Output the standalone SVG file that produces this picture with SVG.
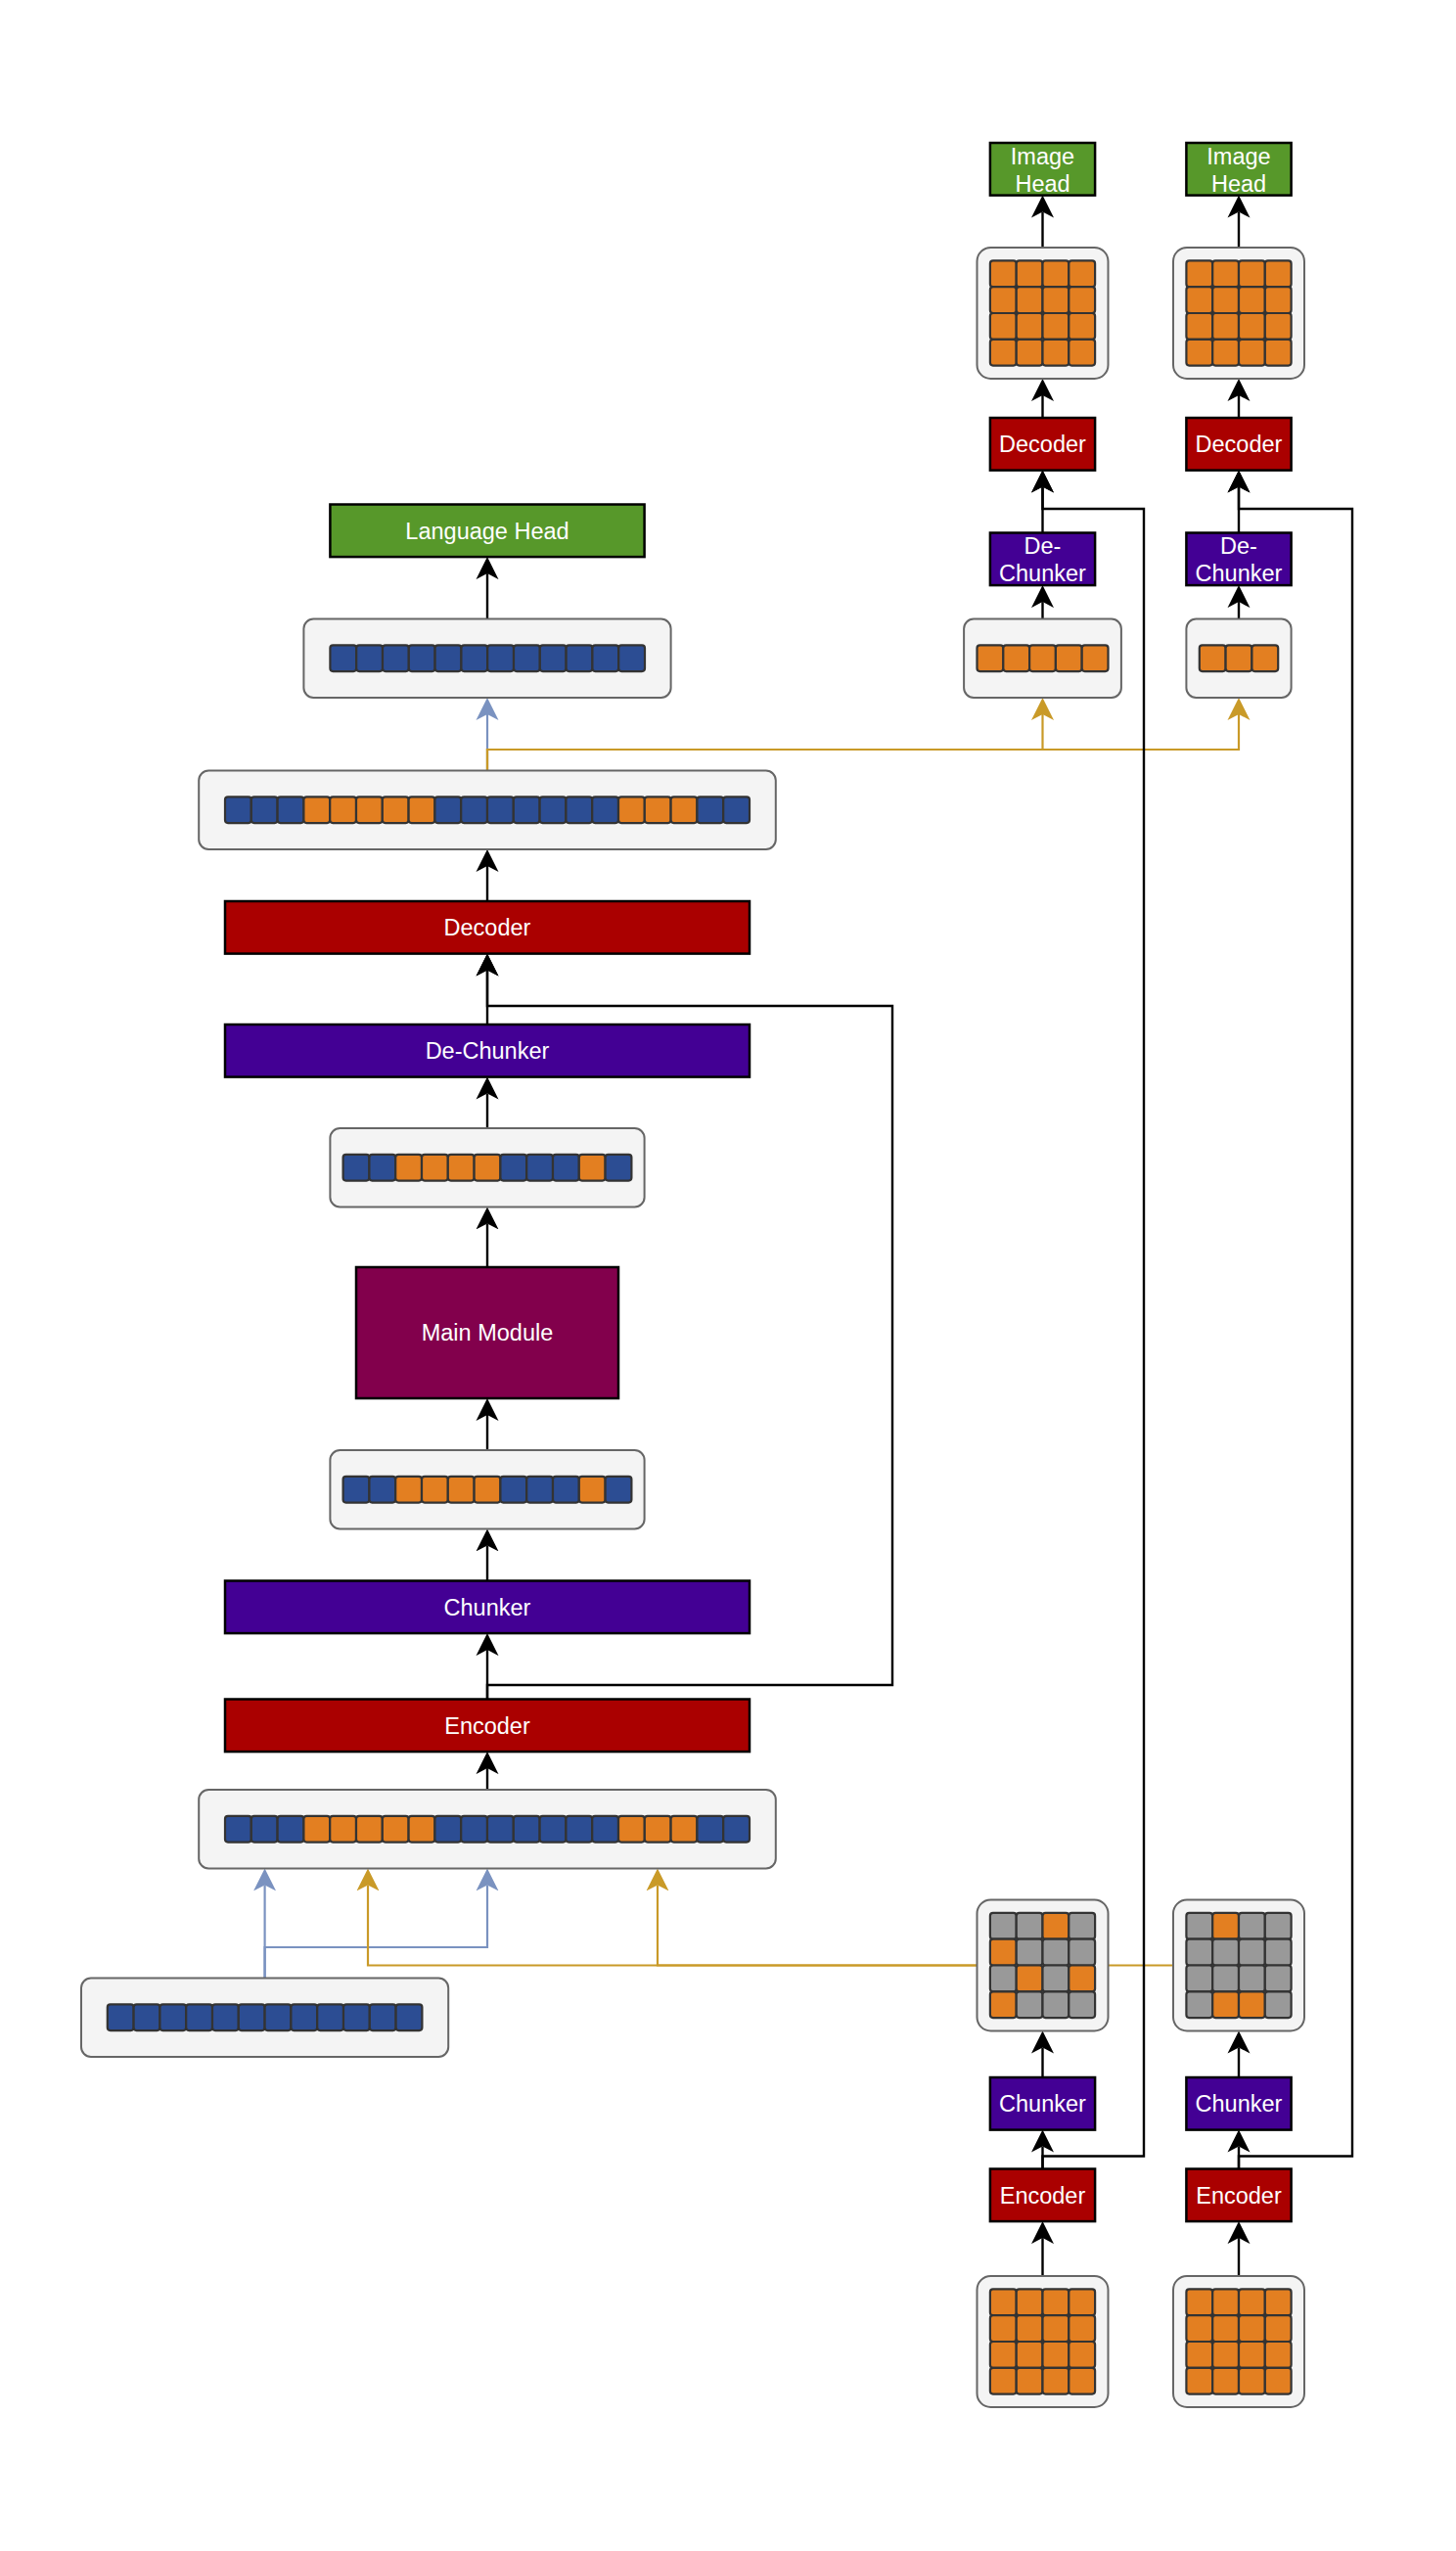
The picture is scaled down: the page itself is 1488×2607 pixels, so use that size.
<svg xmlns="http://www.w3.org/2000/svg" xmlns:xlink="http://www.w3.org/1999/xlink" width="1488" height="2607" viewBox="0 0 1488 2607">
<style>
.box{fill:#f4f4f4;stroke:#666666;stroke-width:2}
.b{fill:#2c4d93;stroke:#333333;stroke-width:2.2}
.o{fill:#e37f21;stroke:#333333;stroke-width:2.2}
.g{fill:#999999;stroke:#333333;stroke-width:2.2}
.red{fill:#aa0000;stroke:#000000;stroke-width:2.5}
.pur{fill:#430094;stroke:#000000;stroke-width:2.5}
.grn{fill:#57982a;stroke:#000000;stroke-width:2.5}
.mag{fill:#82004c;stroke:#000000;stroke-width:2.5}
.t{fill:#ffffff;font-family:"Liberation Sans",Arial,Helvetica,sans-serif;font-size:23.5px;text-anchor:middle}
.k{fill:none;stroke:#000000;stroke-width:2.4}
.bl{fill:none;stroke:#7a92c0;stroke-width:2.2}
.gd{fill:none;stroke:#c99a28;stroke-width:2.2}
</style>
<defs>
<marker id="ak" markerUnits="userSpaceOnUse" markerWidth="24" markerHeight="24" viewBox="0 0 24 24" refX="6" refY="12" orient="auto"><path d="M0,0.5 L23,12 L0,23.5 L6,12 Z" fill="#000000"/></marker>
<marker id="ab" markerUnits="userSpaceOnUse" markerWidth="24" markerHeight="24" viewBox="0 0 24 24" refX="6" refY="12" orient="auto"><path d="M0,0.5 L23,12 L0,23.5 L6,12 Z" fill="#7a92c0"/></marker>
<marker id="ag" markerUnits="userSpaceOnUse" markerWidth="24" markerHeight="24" viewBox="0 0 24 24" refX="6" refY="12" orient="auto"><path d="M0,0.5 L23,12 L0,23.5 L6,12 Z" fill="#c99a28"/></marker>
<g id="orow4">
<rect class="o" x="0" y="0" width="26.8" height="26.8" rx="3"/>
<rect class="o" x="26.8" y="0" width="26.8" height="26.8" rx="3"/>
<rect class="o" x="53.6" y="0" width="26.8" height="26.8" rx="3"/>
<rect class="o" x="80.4" y="0" width="26.8" height="26.8" rx="3"/>
</g>
<g id="ogrid">
<use xlink:href="#orow4" x="0" y="0"/>
<use xlink:href="#orow4" x="0" y="26.8"/>
<use xlink:href="#orow4" x="0" y="53.6"/>
<use xlink:href="#orow4" x="0" y="80.4"/>
</g>
</defs>
<rect x="0" y="0" width="1488" height="2607" fill="#ffffff"/>

<g id="connectors">
<!-- main column -->
<path class="k" d="M498,632.5 V586.1" marker-end="url(#ak)"/>
<path class="bl" d="M498,787.5 V729.9" marker-end="url(#ab)"/>
<path class="gd" d="M498,787.5 V766 H1065.5 V730" marker-end="url(#ag)"/>
<path class="gd" d="M498,787.5 V766 H1266 V730" marker-end="url(#ag)"/>
<path class="k" d="M498,921 V885" marker-end="url(#ak)"/>
<path class="k" d="M498,1047 V991.6" marker-end="url(#ak)"/>
<path class="k" d="M498,1153 V1117.6" marker-end="url(#ak)"/>
<path class="k" d="M498,1295 V1250.4" marker-end="url(#ak)"/>
<path class="k" d="M498,1482 V1446" marker-end="url(#ak)"/>
<path class="k" d="M498,1615.5 V1579.4" marker-end="url(#ak)"/>
<path class="k" d="M498,1736.5 V1686.1" marker-end="url(#ak)"/>
<path class="k" d="M498,1736.5 V1722 H912 V1028 H498 V991.6" marker-end="url(#ak)"/>
<path class="k" d="M498,1829 V1807.1" marker-end="url(#ak)"/>
<!-- inputs into encoder row -->
<path class="bl" d="M270.6,2021.5 V1926.4" marker-end="url(#ab)"/>
<path class="bl" d="M270.6,2021.5 V1990 H498 V1926.4" marker-end="url(#ab)"/>
<path class="gd" d="M998.5,2008.5 H376 V1926.4" marker-end="url(#ag)"/>
<path class="gd" d="M998.5,2008.5 H672 V1926.4" marker-end="url(#ag)"/>
<path class="gd" d="M1199,2008.5 H1132.5"/>
<!-- right column L -->
<path class="k" d="M1065.5,632.5 V615.1" marker-end="url(#ak)"/>
<path class="k" d="M1065.5,544.5 V497.6" marker-end="url(#ak)"/>
<path class="k" d="M1065.5,427 V404" marker-end="url(#ak)"/>
<path class="k" d="M1065.5,253 V216.6" marker-end="url(#ak)"/>
<path class="k" d="M1065.5,2326 V2287.1" marker-end="url(#ak)"/>
<path class="k" d="M1065.5,2216.5 V2193.6" marker-end="url(#ak)"/>
<path class="k" d="M1065.5,2123 V2092.5" marker-end="url(#ak)"/>
<path class="k" d="M1065.5,2216.5 V2203.5 H1169 V520 H1065.5 V497.6" marker-end="url(#ak)"/>
<!-- right column R -->
<path class="k" d="M1266,632.5 V615.1" marker-end="url(#ak)"/>
<path class="k" d="M1266,544.5 V497.6" marker-end="url(#ak)"/>
<path class="k" d="M1266,427 V404" marker-end="url(#ak)"/>
<path class="k" d="M1266,253 V216.6" marker-end="url(#ak)"/>
<path class="k" d="M1266,2326 V2287.1" marker-end="url(#ak)"/>
<path class="k" d="M1266,2216.5 V2193.6" marker-end="url(#ak)"/>
<path class="k" d="M1266,2123 V2092.5" marker-end="url(#ak)"/>
<path class="k" d="M1266,2216.5 V2203.5 H1382 V520 H1266 V497.6" marker-end="url(#ak)"/>
</g>

<!-- main column nodes -->
<g id="language-head">
<rect class="grn" x="337.4" y="515.5" width="321.2" height="53.6"/>
<text class="t" x="498" y="550.5">Language Head</text>
</g>
<g id="tokens-out">
<rect class="box" x="310.4" y="632.5" width="375.2" height="80.4" rx="10"/>
<rect class="b" x="337.4" y="659.3" width="26.8" height="26.8" rx="3"/>
<rect class="b" x="364.2" y="659.3" width="26.8" height="26.8" rx="3"/>
<rect class="b" x="391" y="659.3" width="26.8" height="26.8" rx="3"/>
<rect class="b" x="417.8" y="659.3" width="26.8" height="26.8" rx="3"/>
<rect class="b" x="444.6" y="659.3" width="26.8" height="26.8" rx="3"/>
<rect class="b" x="471.4" y="659.3" width="26.8" height="26.8" rx="3"/>
<rect class="b" x="498.2" y="659.3" width="26.8" height="26.8" rx="3"/>
<rect class="b" x="525" y="659.3" width="26.8" height="26.8" rx="3"/>
<rect class="b" x="551.8" y="659.3" width="26.8" height="26.8" rx="3"/>
<rect class="b" x="578.6" y="659.3" width="26.8" height="26.8" rx="3"/>
<rect class="b" x="605.4" y="659.3" width="26.8" height="26.8" rx="3"/>
<rect class="b" x="632.2" y="659.3" width="26.8" height="26.8" rx="3"/>
</g>
<g id="tokens-decoded">
<rect class="box" x="203.2" y="787.5" width="589.6" height="80.4" rx="10"/>
<rect class="b" x="230" y="814.3" width="26.8" height="26.8" rx="3"/>
<rect class="b" x="256.8" y="814.3" width="26.8" height="26.8" rx="3"/>
<rect class="b" x="283.6" y="814.3" width="26.8" height="26.8" rx="3"/>
<rect class="o" x="310.4" y="814.3" width="26.8" height="26.8" rx="3"/>
<rect class="o" x="337.2" y="814.3" width="26.8" height="26.8" rx="3"/>
<rect class="o" x="364" y="814.3" width="26.8" height="26.8" rx="3"/>
<rect class="o" x="390.8" y="814.3" width="26.8" height="26.8" rx="3"/>
<rect class="o" x="417.6" y="814.3" width="26.8" height="26.8" rx="3"/>
<rect class="b" x="444.4" y="814.3" width="26.8" height="26.8" rx="3"/>
<rect class="b" x="471.2" y="814.3" width="26.8" height="26.8" rx="3"/>
<rect class="b" x="498" y="814.3" width="26.8" height="26.8" rx="3"/>
<rect class="b" x="524.8" y="814.3" width="26.8" height="26.8" rx="3"/>
<rect class="b" x="551.6" y="814.3" width="26.8" height="26.8" rx="3"/>
<rect class="b" x="578.4" y="814.3" width="26.8" height="26.8" rx="3"/>
<rect class="b" x="605.2" y="814.3" width="26.8" height="26.8" rx="3"/>
<rect class="o" x="632" y="814.3" width="26.8" height="26.8" rx="3"/>
<rect class="o" x="658.8" y="814.3" width="26.8" height="26.8" rx="3"/>
<rect class="o" x="685.6" y="814.3" width="26.8" height="26.8" rx="3"/>
<rect class="b" x="712.4" y="814.3" width="26.8" height="26.8" rx="3"/>
<rect class="b" x="739.2" y="814.3" width="26.8" height="26.8" rx="3"/>
</g>
<g id="decoder">
<rect class="red" x="230" y="921" width="536" height="53.6"/>
<text class="t" x="498" y="956">Decoder</text>
</g>
<g id="dechunker">
<rect class="pur" x="230" y="1047" width="536" height="53.6"/>
<text class="t" x="498" y="1082">De-Chunker</text>
</g>
<g id="tokens-main-out">
<rect class="box" x="337.4" y="1153" width="321.2" height="80.4" rx="10"/>
<rect class="b" x="350.6" y="1179.8" width="26.8" height="26.8" rx="3"/>
<rect class="b" x="377.4" y="1179.8" width="26.8" height="26.8" rx="3"/>
<rect class="o" x="404.2" y="1179.8" width="26.8" height="26.8" rx="3"/>
<rect class="o" x="431" y="1179.8" width="26.8" height="26.8" rx="3"/>
<rect class="o" x="457.8" y="1179.8" width="26.8" height="26.8" rx="3"/>
<rect class="o" x="484.6" y="1179.8" width="26.8" height="26.8" rx="3"/>
<rect class="b" x="511.4" y="1179.8" width="26.8" height="26.8" rx="3"/>
<rect class="b" x="538.2" y="1179.8" width="26.8" height="26.8" rx="3"/>
<rect class="b" x="565" y="1179.8" width="26.8" height="26.8" rx="3"/>
<rect class="o" x="591.8" y="1179.8" width="26.8" height="26.8" rx="3"/>
<rect class="b" x="618.6" y="1179.8" width="26.8" height="26.8" rx="3"/>
</g>
<g id="main-module">
<rect class="mag" x="364" y="1295" width="268" height="134"/>
<text class="t" x="498" y="1370">Main Module</text>
</g>
<g id="tokens-main-in">
<rect class="box" x="337.4" y="1482" width="321.2" height="80.4" rx="10"/>
<rect class="b" x="350.6" y="1508.8" width="26.8" height="26.8" rx="3"/>
<rect class="b" x="377.4" y="1508.8" width="26.8" height="26.8" rx="3"/>
<rect class="o" x="404.2" y="1508.8" width="26.8" height="26.8" rx="3"/>
<rect class="o" x="431" y="1508.8" width="26.8" height="26.8" rx="3"/>
<rect class="o" x="457.8" y="1508.8" width="26.8" height="26.8" rx="3"/>
<rect class="o" x="484.6" y="1508.8" width="26.8" height="26.8" rx="3"/>
<rect class="b" x="511.4" y="1508.8" width="26.8" height="26.8" rx="3"/>
<rect class="b" x="538.2" y="1508.8" width="26.8" height="26.8" rx="3"/>
<rect class="b" x="565" y="1508.8" width="26.8" height="26.8" rx="3"/>
<rect class="o" x="591.8" y="1508.8" width="26.8" height="26.8" rx="3"/>
<rect class="b" x="618.6" y="1508.8" width="26.8" height="26.8" rx="3"/>
</g>
<g id="chunker">
<rect class="pur" x="230" y="1615.5" width="536" height="53.6"/>
<text class="t" x="498" y="1650.5">Chunker</text>
</g>
<g id="encoder">
<rect class="red" x="230" y="1736.5" width="536" height="53.6"/>
<text class="t" x="498" y="1771.5">Encoder</text>
</g>
<g id="tokens-in">
<rect class="box" x="203.2" y="1829" width="589.6" height="80.4" rx="10"/>
<rect class="b" x="230" y="1855.8" width="26.8" height="26.8" rx="3"/>
<rect class="b" x="256.8" y="1855.8" width="26.8" height="26.8" rx="3"/>
<rect class="b" x="283.6" y="1855.8" width="26.8" height="26.8" rx="3"/>
<rect class="o" x="310.4" y="1855.8" width="26.8" height="26.8" rx="3"/>
<rect class="o" x="337.2" y="1855.8" width="26.8" height="26.8" rx="3"/>
<rect class="o" x="364" y="1855.8" width="26.8" height="26.8" rx="3"/>
<rect class="o" x="390.8" y="1855.8" width="26.8" height="26.8" rx="3"/>
<rect class="o" x="417.6" y="1855.8" width="26.8" height="26.8" rx="3"/>
<rect class="b" x="444.4" y="1855.8" width="26.8" height="26.8" rx="3"/>
<rect class="b" x="471.2" y="1855.8" width="26.8" height="26.8" rx="3"/>
<rect class="b" x="498" y="1855.8" width="26.8" height="26.8" rx="3"/>
<rect class="b" x="524.8" y="1855.8" width="26.8" height="26.8" rx="3"/>
<rect class="b" x="551.6" y="1855.8" width="26.8" height="26.8" rx="3"/>
<rect class="b" x="578.4" y="1855.8" width="26.8" height="26.8" rx="3"/>
<rect class="b" x="605.2" y="1855.8" width="26.8" height="26.8" rx="3"/>
<rect class="o" x="632" y="1855.8" width="26.8" height="26.8" rx="3"/>
<rect class="o" x="658.8" y="1855.8" width="26.8" height="26.8" rx="3"/>
<rect class="o" x="685.6" y="1855.8" width="26.8" height="26.8" rx="3"/>
<rect class="b" x="712.4" y="1855.8" width="26.8" height="26.8" rx="3"/>
<rect class="b" x="739.2" y="1855.8" width="26.8" height="26.8" rx="3"/>
</g>
<g id="text-input">
<rect class="box" x="83" y="2021.5" width="375.2" height="80.4" rx="10"/>
<rect class="b" x="109.8" y="2048.3" width="26.8" height="26.8" rx="3"/>
<rect class="b" x="136.6" y="2048.3" width="26.8" height="26.8" rx="3"/>
<rect class="b" x="163.4" y="2048.3" width="26.8" height="26.8" rx="3"/>
<rect class="b" x="190.2" y="2048.3" width="26.8" height="26.8" rx="3"/>
<rect class="b" x="217" y="2048.3" width="26.8" height="26.8" rx="3"/>
<rect class="b" x="243.8" y="2048.3" width="26.8" height="26.8" rx="3"/>
<rect class="b" x="270.6" y="2048.3" width="26.8" height="26.8" rx="3"/>
<rect class="b" x="297.4" y="2048.3" width="26.8" height="26.8" rx="3"/>
<rect class="b" x="324.2" y="2048.3" width="26.8" height="26.8" rx="3"/>
<rect class="b" x="351" y="2048.3" width="26.8" height="26.8" rx="3"/>
<rect class="b" x="377.8" y="2048.3" width="26.8" height="26.8" rx="3"/>
<rect class="b" x="404.6" y="2048.3" width="26.8" height="26.8" rx="3"/>
</g>

<!-- right column L (top) -->
<g id="image-head-1">
<rect class="grn" x="1011.9" y="146" width="107.2" height="53.6"/>
<text class="t" x="1065.5" y="168">Image</text>
<text class="t" x="1065.5" y="196">Head</text>
</g>
<g id="image-out-1">
<rect class="box" x="998.5" y="253" width="134" height="134" rx="14"/>
<use xlink:href="#ogrid" x="1011.9" y="266.4"/>
</g>
<g id="image-decoder-1">
<rect class="red" x="1011.9" y="427" width="107.2" height="53.6"/>
<text class="t" x="1065.5" y="462">Decoder</text>
</g>
<g id="image-dechunker-1">
<rect class="pur" x="1011.9" y="544.5" width="107.2" height="53.6"/>
<text class="t" x="1065.5" y="566">De-</text>
<text class="t" x="1065.5" y="594">Chunker</text>
</g>
<g id="image-tokens-1">
<rect class="box" x="985.1" y="632.5" width="160.8" height="80.4" rx="10"/>
<rect class="o" x="998.5" y="659.3" width="26.8" height="26.8" rx="3"/>
<rect class="o" x="1025.3" y="659.3" width="26.8" height="26.8" rx="3"/>
<rect class="o" x="1052.1" y="659.3" width="26.8" height="26.8" rx="3"/>
<rect class="o" x="1078.9" y="659.3" width="26.8" height="26.8" rx="3"/>
<rect class="o" x="1105.7" y="659.3" width="26.8" height="26.8" rx="3"/>
</g>

<!-- right column R (top) -->
<g id="image-head-2">
<rect class="grn" x="1212.4" y="146" width="107.2" height="53.6"/>
<text class="t" x="1266" y="168">Image</text>
<text class="t" x="1266" y="196">Head</text>
</g>
<g id="image-out-2">
<rect class="box" x="1199" y="253" width="134" height="134" rx="14"/>
<use xlink:href="#ogrid" x="1212.4" y="266.4"/>
</g>
<g id="image-decoder-2">
<rect class="red" x="1212.4" y="427" width="107.2" height="53.6"/>
<text class="t" x="1266" y="462">Decoder</text>
</g>
<g id="image-dechunker-2">
<rect class="pur" x="1212.4" y="544.5" width="107.2" height="53.6"/>
<text class="t" x="1266" y="566">De-</text>
<text class="t" x="1266" y="594">Chunker</text>
</g>
<g id="image-tokens-2">
<rect class="box" x="1212.4" y="632.5" width="107.2" height="80.4" rx="10"/>
<rect class="o" x="1225.8" y="659.3" width="26.8" height="26.8" rx="3"/>
<rect class="o" x="1252.6" y="659.3" width="26.8" height="26.8" rx="3"/>
<rect class="o" x="1279.4" y="659.3" width="26.8" height="26.8" rx="3"/>
</g>

<!-- right column L (bottom) -->
<g id="image-chunked-1">
<rect class="box" x="998.5" y="1941.5" width="134" height="134" rx="14"/>
<rect class="g" x="1011.9" y="1954.9" width="26.8" height="26.8" rx="3"/>
<rect class="g" x="1038.7" y="1954.9" width="26.8" height="26.8" rx="3"/>
<rect class="o" x="1065.5" y="1954.9" width="26.8" height="26.8" rx="3"/>
<rect class="g" x="1092.3" y="1954.9" width="26.8" height="26.8" rx="3"/>
<rect class="o" x="1011.9" y="1981.7" width="26.8" height="26.8" rx="3"/>
<rect class="g" x="1038.7" y="1981.7" width="26.8" height="26.8" rx="3"/>
<rect class="g" x="1065.5" y="1981.7" width="26.8" height="26.8" rx="3"/>
<rect class="g" x="1092.3" y="1981.7" width="26.8" height="26.8" rx="3"/>
<rect class="g" x="1011.9" y="2008.5" width="26.8" height="26.8" rx="3"/>
<rect class="o" x="1038.7" y="2008.5" width="26.8" height="26.8" rx="3"/>
<rect class="g" x="1065.5" y="2008.5" width="26.8" height="26.8" rx="3"/>
<rect class="o" x="1092.3" y="2008.5" width="26.8" height="26.8" rx="3"/>
<rect class="o" x="1011.9" y="2035.3" width="26.8" height="26.8" rx="3"/>
<rect class="g" x="1038.7" y="2035.3" width="26.8" height="26.8" rx="3"/>
<rect class="g" x="1065.5" y="2035.3" width="26.8" height="26.8" rx="3"/>
<rect class="g" x="1092.3" y="2035.3" width="26.8" height="26.8" rx="3"/>
</g>
<g id="image-chunker-1">
<rect class="pur" x="1011.9" y="2123" width="107.2" height="53.6"/>
<text class="t" x="1065.5" y="2158">Chunker</text>
</g>
<g id="image-encoder-1">
<rect class="red" x="1011.9" y="2216.5" width="107.2" height="53.6"/>
<text class="t" x="1065.5" y="2251.5">Encoder</text>
</g>
<g id="image-in-1">
<rect class="box" x="998.5" y="2326" width="134" height="134" rx="14"/>
<use xlink:href="#ogrid" x="1011.9" y="2339.4"/>
</g>

<!-- right column R (bottom) -->
<g id="image-chunked-2">
<rect class="box" x="1199" y="1941.5" width="134" height="134" rx="14"/>
<rect class="g" x="1212.4" y="1954.9" width="26.8" height="26.8" rx="3"/>
<rect class="o" x="1239.2" y="1954.9" width="26.8" height="26.8" rx="3"/>
<rect class="g" x="1266" y="1954.9" width="26.8" height="26.8" rx="3"/>
<rect class="g" x="1292.8" y="1954.9" width="26.8" height="26.8" rx="3"/>
<rect class="g" x="1212.4" y="1981.7" width="26.8" height="26.8" rx="3"/>
<rect class="g" x="1239.2" y="1981.7" width="26.8" height="26.8" rx="3"/>
<rect class="g" x="1266" y="1981.7" width="26.8" height="26.8" rx="3"/>
<rect class="g" x="1292.8" y="1981.7" width="26.8" height="26.8" rx="3"/>
<rect class="g" x="1212.4" y="2008.5" width="26.8" height="26.8" rx="3"/>
<rect class="g" x="1239.2" y="2008.5" width="26.8" height="26.8" rx="3"/>
<rect class="g" x="1266" y="2008.5" width="26.8" height="26.8" rx="3"/>
<rect class="g" x="1292.8" y="2008.5" width="26.8" height="26.8" rx="3"/>
<rect class="g" x="1212.4" y="2035.3" width="26.8" height="26.8" rx="3"/>
<rect class="o" x="1239.2" y="2035.3" width="26.8" height="26.8" rx="3"/>
<rect class="o" x="1266" y="2035.3" width="26.8" height="26.8" rx="3"/>
<rect class="g" x="1292.8" y="2035.3" width="26.8" height="26.8" rx="3"/>
</g>
<g id="image-chunker-2">
<rect class="pur" x="1212.4" y="2123" width="107.2" height="53.6"/>
<text class="t" x="1266" y="2158">Chunker</text>
</g>
<g id="image-encoder-2">
<rect class="red" x="1212.4" y="2216.5" width="107.2" height="53.6"/>
<text class="t" x="1266" y="2251.5">Encoder</text>
</g>
<g id="image-in-2">
<rect class="box" x="1199" y="2326" width="134" height="134" rx="14"/>
<use xlink:href="#ogrid" x="1212.4" y="2339.4"/>
</g>
</svg>
